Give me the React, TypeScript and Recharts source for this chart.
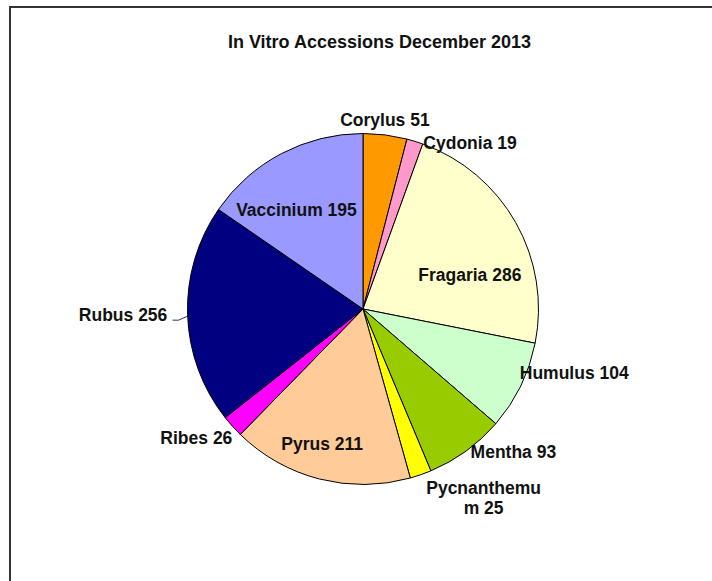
import React from "react";
import { PieChart, Pie, Cell } from "recharts";

const genera = ["Corylus", "Cydonia", "Fragaria", "Humulus", "Mentha", "Pycnanthemum", "Pyrus", "Ribes", "Rubus", "Vaccinium"];
const accessions = [51, 19, 286, 104, 93, 25, 211, 26, 256, 195];
const labelLines = [["Corylus 51"], ["Cydonia 19"], ["Fragaria 286"], ["Humulus 104"], ["Mentha 93"], ["Pycnanthemu", "m 25"], ["Pyrus 211"], ["Ribes 26"], ["Rubus 256"], ["Vaccinium 195"]];
const colors = ["#FF9900", "#FF99CC", "#FFFFCC", "#CCFFCC", "#99CC00", "#FFFF00", "#FFCC99", "#FF00FF", "#000080", "#9999FF"];
const title = "In Vitro Accessions December 2013";

// label layout: radius factor along the slice's mid angle, then a shift
const labelRadius = [1.08, 1.08, 0.64, 1.2, 1.1, 1.12, 0.8, 1.2, 1.0, 0.68];
const labelShift: [number, number][] = [[-2, -1], [51, 15], [9, 21], [22, -28], [37, -13], [56, 3], [-6, -1], [-10, -12], [-64.5, 0.5], [-11, 7]];

const data = genera.map((g, i) => ({ name: g, value: accessions[i] }));

const FONT = "'Liberation Sans', Arial, sans-serif";
const RAD = Math.PI / 180;

const renderLabel = (props: any) => {
  const { cx, cy, midAngle, outerRadius, index } = props;
  const r = outerRadius * labelRadius[index];
  const px = cx + r * Math.cos(-midAngle * RAD);
  const py = cy + r * Math.sin(-midAngle * RAD);
  const x = px + labelShift[index][0];
  const y = py + labelShift[index][1];
  const lines = labelLines[index];
  const lh = 20;
  const y0 = y - ((lines.length - 1) * lh) / 2;
  const leader = genera[index] === "Rubus";
  return (
    <g key={`lbl-${index}`}>
      {leader && (
        <polyline
          points={`${px},${py + 1.5} ${px - 9},${py + 5.5} ${px - 15},${py + 5.5}`}
          fill="none"
          stroke="#000"
          strokeWidth={0.8}
        />
      )}
      <text
        x={x}
        y={y0}
        textAnchor="middle"
        dominantBaseline="central"
        fontFamily={FONT}
        fontWeight="bold"
        fontSize={17.5}
        fill="#111"
      >
        {lines.map((t, k) => (
          <tspan key={k} x={x} y={y0 + k * lh}>
            {t}
          </tspan>
        ))}
      </text>
    </g>
  );
};

export default function App() {
  return (
    <div style={{ position: "absolute", left: 0, top: 0, width: 712, height: 581, background: "#fff" }}>
      <PieChart width={712} height={581} margin={{ top: 0, right: 0, bottom: 0, left: 0 }}>
        <Pie
          data={data}
          dataKey="value"
          nameKey="name"
          cx={363}
          cy={309}
          outerRadius={175.5}
          startAngle={90}
          endAngle={-270}
          stroke="#000"
          strokeWidth={1}
          label={renderLabel}
          labelLine={false}
          isAnimationActive={false}
        >
          {data.map((d, i) => (
            <Cell key={d.name} fill={colors[i]} />
          ))}
        </Pie>
      </PieChart>
      <svg width={712} height={581} style={{ position: "absolute", left: 0, top: 0, pointerEvents: "none" }}>
        <line x1={10} y1={7} x2={712} y2={7} stroke="#333" strokeWidth={2} />
        <line x1={10} y1={6} x2={10} y2={581} stroke="#333" strokeWidth={2} />
        <text x={379.5} y={42} textAnchor="middle" dominantBaseline="central" fontFamily={FONT} fontWeight="bold" fontSize={18} fill="#111">
          {title}
        </text>
      </svg>
    </div>
  );
}
